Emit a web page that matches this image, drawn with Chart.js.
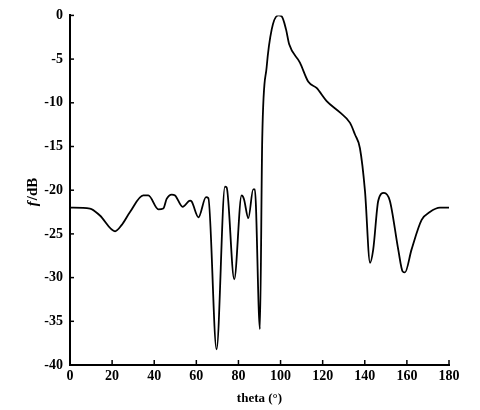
<!DOCTYPE html>
<html>
<head>
<meta charset="utf-8">
<script src="https://cdn.jsdelivr.net/npm/chart.js@4.4.0/dist/chart.umd.min.js"></script>
<style>
  html, body { margin: 0; padding: 0; background: #ffffff; }
  #wrap { width: 480px; height: 410px; position: relative; }
</style>
</head>
<body>
<div id="wrap"><canvas id="patternCanvas"></canvas></div>
<script>
// datos (theta en grados, nivel en dB)
const thetaValues = [0, 9.5, 14.2, 21.4, 24.5, 28.5, 34.8, 37.2, 42, 44.3, 45.9, 48.3, 49.9, 53.5, 57, 57.8, 61, 64.6, 65.7,
  69.6, 73.6, 74.4, 78, 81.5, 82.6, 84.7, 87, 87.8, 90.2, 91.3, 93.4, 95.8, 98.9, 100.5, 102.6, 104.1,
  109.2, 113.2, 117.1, 121.9, 128.2, 133, 135.3, 137.7, 140.1, 142.5, 144, 146.4, 149.1, 151.9, 155.9,
  158, 159.1, 162.2, 167, 170.9, 175.7, 180];
const gainValues = [-22.0, -22.1, -22.9, -24.7, -24.0, -22.5, -20.6, -20.6, -22.2, -22.1, -21.0, -20.5, -20.6, -21.9, -21.2, -21.3, -23.1, -20.8, -20.9,
  -38.2, -19.6, -19.7, -30.2, -20.6, -21.0, -23.2, -19.9, -19.9, -35.9, -14.1, -5.9, -1.6, 0.0, -0.1, -1.6, -3.3,
  -5.4, -7.6, -8.3, -9.8, -11.1, -12.3, -13.6, -15.2, -20.1, -28.3, -26.8, -21.2, -20.3, -21.2, -26.8,
  -29.3, -29.4, -26.8, -23.4, -22.5, -22.0, -22.0];
const xTickValues = [0, 20, 40, 60, 80, 100, 120, 140, 160, 180];
const yTickValues = [0, -5, -10, -15, -20, -25, -30, -35, -40];

const serif = '"Liberation Serif", "DejaVu Serif", serif';

// marcas de escala hacia dentro + titulo del eje y con la f en cursiva
const axisExtras = {
  id: 'axisExtras',
  afterDraw(chart) {
    const { ctx, chartArea, scales } = chart;
    ctx.save();
    ctx.strokeStyle = '#000';
    ctx.lineWidth = 1.5;
    xTickValues.forEach(v => {
      const px = scales.x.getPixelForValue(v);
      ctx.beginPath();
      ctx.moveTo(px, chartArea.bottom);
      ctx.lineTo(px, chartArea.bottom - 5);
      ctx.stroke();
    });
    yTickValues.forEach(v => {
      const py = scales.y.getPixelForValue(v);
      ctx.beginPath();
      ctx.moveTo(chartArea.left, py);
      ctx.lineTo(chartArea.left + 4, py);
      ctx.stroke();
    });

    // titulo vertical "f/dB"
    const partF = 'italic bold 15px ' + serif;
    const partRest = 'bold 15px ' + serif;
    ctx.font = partF;
    const wF = ctx.measureText('f').width + 1;
    ctx.font = partRest;
    const wRest = ctx.measureText('/dB').width;
    const total = wF + wRest;
    ctx.translate(33, 192);
    ctx.rotate(-Math.PI / 2);
    ctx.fillStyle = '#000';
    ctx.textBaseline = 'middle';
    ctx.textAlign = 'left';
    ctx.font = partF;
    ctx.fillText('f', -total / 2, 0);
    ctx.font = partRest;
    ctx.fillText('/dB', -total / 2 + wF, 0);
    ctx.restore();
  }
};

const ctx = document.getElementById('patternCanvas').getContext('2d');
new Chart(ctx, {
  type: 'line',
  data: {
    datasets: [{
      data: thetaValues.map((t, i) => ({ x: t, y: gainValues[i] })),
      borderColor: '#000',
      borderWidth: 1.8,
      pointRadius: 0,
      fill: false,
      cubicInterpolationMode: 'monotone'
    }]
  },
  options: {
    responsive: true,
    maintainAspectRatio: false,
    animation: false,
    layout: { padding: { top: 7, right: 31, left: 0, bottom: 0 } },
    plugins: { legend: { display: false }, tooltip: { enabled: false } },
    scales: {
      x: {
        type: 'linear',
        min: 0, max: 180,
        afterBuildTicks: s => { s.ticks = xTickValues.map(v => ({ value: v })); },
        afterFit: s => { s.height = 45; },
        border: { display: true, color: '#000', width: 2 },
        grid: { display: false, drawTicks: false },
        ticks: { color: '#000', padding: 3, font: { family: serif, size: 14, weight: 'bold' } },
        title: { display: true, text: 'theta (°)', color: '#000', padding: { top: 4 }, font: { family: serif, size: 13, weight: 'bold' } }
      },
      y: {
        min: -40, max: 0,
        afterBuildTicks: s => { s.ticks = yTickValues.map(v => ({ value: v })); },
        afterFit: s => { s.width = 70; },
        border: { display: true, color: '#000', width: 2 },
        grid: { display: false, drawTicks: false },
        ticks: { color: '#000', padding: 7, font: { family: serif, size: 14, weight: 'bold' } }
      }
    }
  },
  plugins: [axisExtras]
});
</script>
</body>
</html>
